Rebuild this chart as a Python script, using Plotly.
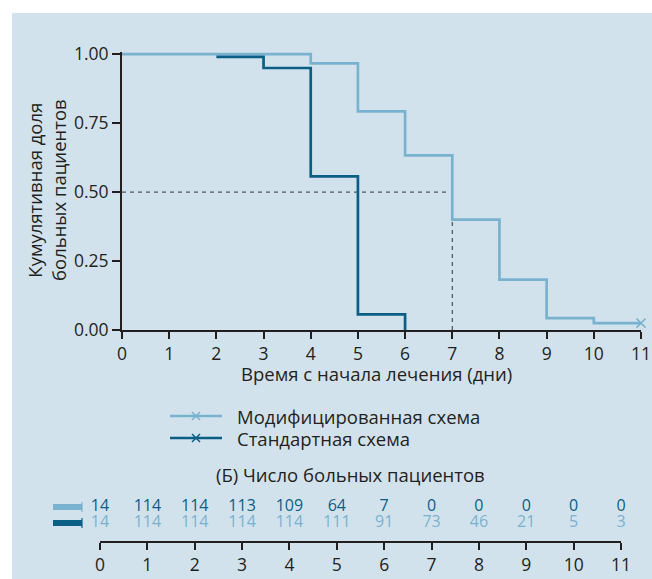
import plotly.graph_objects as go

# ---- data ----
days = list(range(12))
mod_t = [0, 4, 5, 6, 7, 8, 9, 10, 11]
mod_s = [1.0, 0.967, 0.793, 0.633, 0.40, 0.183, 0.043, 0.025, 0.025]
std_t = [2, 3, 4, 5, 6]
std_s = [0.99, 0.95, 0.557, 0.057, 0.0]
median_mod = 7
risk_row1 = [14, 114, 114, 113, 109, 64, 7, 0, 0, 0, 0, 0]
risk_row2 = [14, 114, 114, 114, 114, 111, 91, 73, 46, 21, 5, 3]
yticks = [0, 0.25, 0.5, 0.75, 1.0]
name_mod = "Модифицированная схема"
name_std = "Стандартная схема"

LIGHT = "#79b2cf"
DARK = "#0b5e85"
BG = "#d2e2ed"
INK = "#231f20"
FONT = "Open Sans"
TS = 18.5   # title / legend text size
KS = 17.5   # tick label size
RS = 16     # risk numbers size

W, H = 652, 579
def px(x): return x / W
def py(y): return 1 - y / H

fig = go.Figure()

# dashed median guides
fig.add_trace(go.Scatter(x=[0, median_mod - 0.1], y=[0.5, 0.5], mode="lines",
                         line=dict(color="#333333", width=1, dash="4px,4px"),
                         showlegend=False, hoverinfo="skip"))
fig.add_trace(go.Scatter(x=[median_mod, median_mod], y=[0, mod_s[4]], mode="lines",
                         line=dict(color="#333333", width=1, dash="4px,4px"),
                         showlegend=False, hoverinfo="skip"))

fig.add_trace(go.Scatter(x=mod_t, y=mod_s, mode="lines", line_shape="hv",
                         line=dict(color=LIGHT, width=2.7), showlegend=False))
fig.add_trace(go.Scatter(x=[mod_t[-1]], y=[mod_s[-1]], mode="markers",
                         marker=dict(symbol="x-thin", size=9, line=dict(color=LIGHT, width=1.5)),
                         showlegend=False, cliponaxis=False))
fig.add_trace(go.Scatter(x=std_t, y=std_s, mode="lines", line_shape="hv",
                         line=dict(color=DARK, width=2.7), showlegend=False))

# risk table
fig.add_trace(go.Scatter(x=days, y=[34] * len(days), mode="text", text=[str(v) for v in risk_row1],
                         textfont=dict(family=FONT, size=RS, color=DARK),
                         xaxis="x2", yaxis="y2", showlegend=False, cliponaxis=False))
fig.add_trace(go.Scatter(x=days, y=[18] * len(days), mode="text", text=[str(v) for v in risk_row2],
                         textfont=dict(family=FONT, size=RS, color=LIGHT),
                         xaxis="x2", yaxis="y2", showlegend=False, cliponaxis=False))

axis_common = dict(showline=True, linecolor=INK, linewidth=2, ticks="outside",
                   tickcolor=INK, tickwidth=1.5, showgrid=False, zeroline=False,
                   tickfont=dict(family=FONT, size=KS, color=INK))

def cross(cx, cy, r, color):
    return dict(type="path", xref="paper", yref="paper",
                path=(f"M{px(cx-r)},{py(cy-r)} L{px(cx+r)},{py(cy+r)} "
                      f"M{px(cx-r)},{py(cy+r)} L{px(cx+r)},{py(cy-r)}"),
                line=dict(color=color, width=1.5))

def hline(x0, x1, y, color, w):
    return dict(type="line", xref="paper", yref="paper", x0=px(x0), x1=px(x1),
                y0=py(y), y1=py(y), line=dict(color=color, width=w))

def vline(x, y0, y1, color, w):
    return dict(type="line", xref="paper", yref="paper", x0=px(x), x1=px(x),
                y0=py(y0), y1=py(y1), line=dict(color=color, width=w))

shapes = [
    dict(type="rect", xref="paper", yref="paper", x0=px(12), x1=1, y0=0, y1=py(13),
         fillcolor=BG, line=dict(width=0), layer="below"),
    # legend
    hline(170, 222, 416, LIGHT, 2.7), cross(196, 416, 4, LIGHT),
    hline(170, 222, 438, DARK, 2.7), cross(196, 438, 4, DARK),
    # risk table keys
    hline(53, 82, 507, LIGHT, 6), vline(82, 502, 512, LIGHT, 1.2),
    hline(53, 82, 523, DARK, 6), vline(82, 518, 528, DARK, 1.2),
]

annotations = [
    dict(text="Кумулятивная доля<br>больных пациентов", xref="paper", yref="paper",
         x=px(46), y=py(190), xanchor="center", yanchor="middle", textangle=-90,
         showarrow=False, font=dict(family=FONT, size=TS, color=INK)),
    dict(text="Время с начала лечения (дни)", xref="paper", yref="paper",
         x=px(376), y=py(373), xanchor="center", yanchor="middle",
         showarrow=False, font=dict(family=FONT, size=TS, color=INK)),
    dict(text=name_mod, xref="paper", yref="paper", x=px(235), y=py(416),
         xanchor="left", yanchor="middle", showarrow=False,
         font=dict(family=FONT, size=TS, color=INK)),
    dict(text=name_std, xref="paper", yref="paper", x=px(235), y=py(438),
         xanchor="left", yanchor="middle", showarrow=False,
         font=dict(family=FONT, size=TS, color=INK)),
    dict(text="(Б) Число больных пациентов", xref="paper", yref="paper",
         x=px(350), y=py(474), xanchor="center", yanchor="middle",
         showarrow=False, font=dict(family=FONT, size=TS, color=INK)),
]

fig.update_layout(
    width=W, height=H, margin=dict(l=0, r=0, t=0, b=0, autoexpand=False),
    paper_bgcolor="white", plot_bgcolor="rgba(0,0,0,0)",
    font=dict(family=FONT, size=16, color=INK),
    showlegend=False,
    xaxis=dict(domain=[px(122), px(641)], range=[0, 11], tickvals=days, ticklen=7,
               anchor="y", **axis_common),
    yaxis=dict(domain=[py(330), py(52)], range=[0, 1.008], tickvals=yticks,
               ticktext=[f"{v:.2f}" for v in yticks], ticklen=8, anchor="x", **axis_common),
    xaxis2=dict(domain=[px(100), px(621)], range=[0, 11], tickvals=days, ticklen=7,
                anchor="y2", **axis_common),
    yaxis2=dict(domain=[py(541), py(495)], range=[0, 46], visible=False, anchor="x2"),
    shapes=shapes,
    annotations=annotations,
)

fig.write_html("out.html")
